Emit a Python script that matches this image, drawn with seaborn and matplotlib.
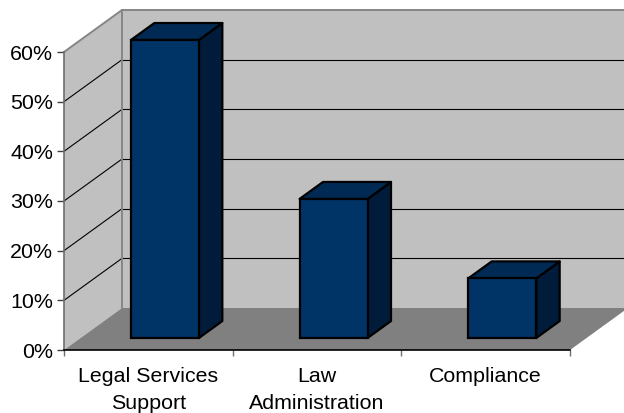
import matplotlib
matplotlib.use('Agg')
import matplotlib.pyplot as plt
import seaborn as sns
from matplotlib.patches import Polygon
from matplotlib.lines import Line2D
from matplotlib.transforms import IdentityTransform
from matplotlib.ticker import PercentFormatter

categories = ['Legal Services\nSupport', 'Law\nAdministration', 'Compliance']
values = [60, 28, 12]
y_ticks = [0, 10, 20, 30, 40, 50, 60]

sns.set_style('white')
plt.rcParams['font.family'] = ['Liberation Sans', 'DejaVu Sans']

W, H = 624, 413
DEPTH_X, DEPTH_Y = 58, 42   # pixels between front plane and back wall
BAR_FRONT, BAR_BACK = 0.286, 0.69   # where the bars sit in the depth

fig = plt.figure(figsize=(W / 100, H / 100), dpi=100)
fig.patch.set_facecolor('white')
ax = fig.add_axes([64 / W, (H - 350) / H, 506 / W, 298 / H])
ax.patch.set_visible(False)

sns.barplot(x=categories, y=values, color='#003366', saturation=1, width=0.403,
            edgecolor='black', linewidth=1.6, ax=ax)
ax.set_xlim(-0.5, 2.5)
ax.set_ylim(0, 60)


def proj(x, y, f=0.0):
    # data position plus depth fraction -> pixel position
    px, py = ax.transData.transform((x, y))
    return px + f * DEPTH_X, py + f * DEPTH_Y


def quad(points, **kw):
    ax.add_patch(Polygon([proj(*p) for p in points], closed=True, clip_on=False,
                         transform=IdentityTransform(), **kw))


def line(p0, p1, **kw):
    a, b = proj(*p0), proj(*p1)
    ax.add_line(Line2D([a[0], b[0]], [a[1], b[1]], clip_on=False,
                       transform=IdentityTransform(), **kw))


x0, x1 = ax.get_xlim()
top = y_ticks[-1]

# push the seaborn bars back into the depth, add their top and side faces
shift = matplotlib.transforms.Affine2D().translate(BAR_FRONT * DEPTH_X, BAR_FRONT * DEPTH_Y)
for bar in list(ax.patches):
    bx0, bx1 = bar.get_x(), bar.get_x() + bar.get_width()
    h = bar.get_height()
    bar.set_transform(ax.transData + shift)
    bar.set_clip_on(False)
    bar.set_zorder(3)
    quad([(bx1, 0, BAR_FRONT), (bx1, 0, BAR_BACK), (bx1, h, BAR_BACK), (bx1, h, BAR_FRONT)],
         facecolor='#001C3A', edgecolor='black', linewidth=1.6, joinstyle='round', zorder=2)
    quad([(bx0, h, BAR_FRONT), (bx1, h, BAR_FRONT), (bx1, h, BAR_BACK), (bx0, h, BAR_BACK)],
         facecolor='#002A54', edgecolor='black', linewidth=1.6, joinstyle='round', zorder=2)

# walls and floor
quad([(x0, 0, 1), (x1, 0, 1), (x1, top, 1), (x0, top, 1)], facecolor='#C0C0C0', edgecolor='none', zorder=0)
quad([(x0, 0, 0), (x0, 0, 1), (x0, top, 1), (x0, top, 0)], facecolor='#C0C0C0', edgecolor='none', zorder=0)
quad([(x0, 0, 0), (x1, 0, 0), (x1, 0, 1), (x0, 0, 1)], facecolor='#808080', edgecolor='none', zorder=0.1)

# grid lines on both walls
for t in y_ticks[1:-1]:
    line((x0, t, 0), (x0, t, 1), color='black', lw=0.8, zorder=0.2)
    line((x0, t, 1), (x1, t, 1), color='black', lw=0.8, zorder=0.2)

# wall borders
line((x0, 0, 1), (x0, top, 1), color='#868686', lw=1.4, zorder=0.3)
line((x0, top, 0), (x0, top, 1), color='#868686', lw=1.4, zorder=0.3)
line((x0, top, 1), (x1, top, 1), color='#868686', lw=1.4, zorder=0.3)

# axes
sns.despine(ax=ax)
ax.spines['left'].set_color('#6E6E6E')
ax.spines['left'].set_linewidth(1.2)
ax.spines['bottom'].set_color('black')
ax.spines['bottom'].set_linewidth(1.2)
ax.spines['left'].set_zorder(4)
ax.spines['bottom'].set_zorder(4)
ax.set_yticks(y_ticks)
ax.yaxis.set_major_formatter(PercentFormatter(decimals=0))
ax.set_xticks([-0.5, 0.5, 1.5, 2.5])
ax.set_xticklabels([])
ax.set_xticks(range(len(categories)), minor=True)
ax.set_xticklabels(categories, minor=True, linespacing=1.58, ha='center')
ax.tick_params(axis='x', which='major', bottom=True, length=4.5, width=1, color='#6E6E6E')
ax.tick_params(axis='x', which='minor', bottom=False, labelsize=15.4, pad=10, colors='black')
ax.tick_params(axis='y', left=True, length=5, width=1, color='#404040', labelsize=15.4, pad=3, labelcolor='black')

fig.savefig('out.png', dpi=100, facecolor='white')
